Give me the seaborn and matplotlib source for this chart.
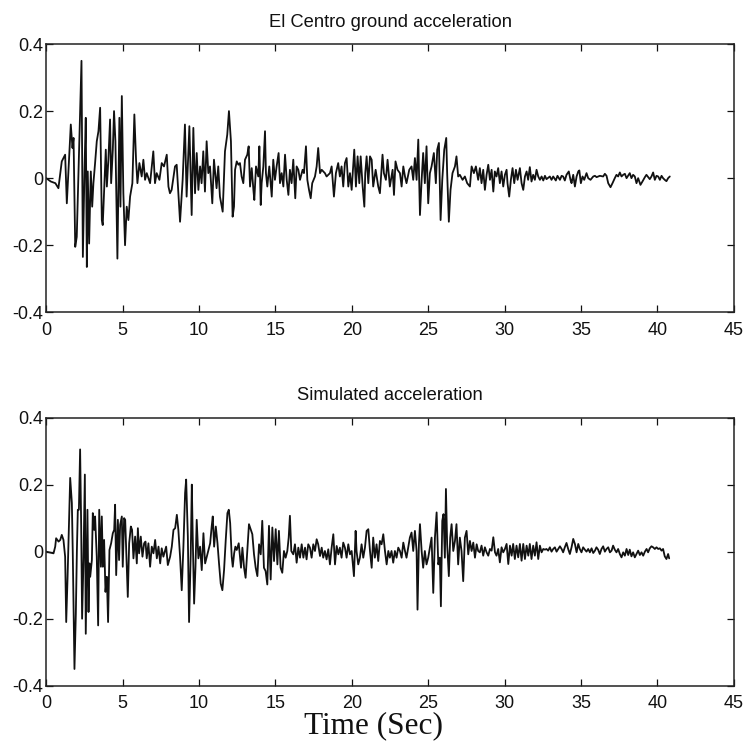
import matplotlib
matplotlib.use("Agg")
import matplotlib.pyplot as plt
import seaborn as sns
import numpy as np

# ---------------- data ----------------
titles = ["El Centro ground acceleration", "Simulated acceleration"]
x_ticks = [0, 5, 10, 15, 20, 25, 30, 35, 40, 45]
y_ticks = [-0.4, -0.2, 0.0, 0.2, 0.4]
y_tick_labels = ["-0.4", "-0.2", "0", "0.2", "0.4"]
x_label = "Time (Sec)"

elcentro_t = [
    0.00, 0.30, 0.60, 0.80, 1.02, 1.24, 1.35, 1.61, 1.72, 1.79,
    1.90, 2.00, 2.11, 2.31, 2.40, 2.51, 2.59, 2.66, 2.72, 2.81,
    2.92, 3.01, 3.09, 3.20, 3.31, 3.42, 3.53, 3.64, 3.70, 3.81,
    3.90, 3.97, 4.07, 4.18, 4.25, 4.36, 4.44, 4.53, 4.66, 4.79,
    4.86, 4.95, 5.05, 5.16, 5.27, 5.38, 5.49, 5.64, 5.77, 5.88,
    5.97, 6.10, 6.25, 6.36, 6.47, 6.58, 6.80, 7.01, 7.12, 7.23,
    7.41, 7.56, 7.71, 7.89, 8.00, 8.10, 8.21, 8.43, 8.54, 8.76,
    8.93, 9.08, 9.19, 9.37, 9.52, 9.63, 9.74, 9.85, 9.96, 10.07,
    10.17, 10.28, 10.39, 10.50, 10.61, 10.72, 10.87, 10.98, 11.15, 11.26,
    11.37, 11.55, 11.70, 11.85, 11.96, 12.09, 12.20, 12.29, 12.36, 12.47,
    12.58, 12.68, 12.79, 12.90, 13.01, 13.16, 13.25, 13.34, 13.45, 13.56,
    13.62, 13.73, 13.88, 13.95, 14.04, 14.10, 14.21, 14.32, 14.38, 14.47,
    14.60, 14.76, 14.86, 14.97, 15.08, 15.21, 15.30, 15.41, 15.52, 15.63,
    15.74, 15.85, 15.95, 16.06, 16.17, 16.30, 16.39, 16.50, 16.61, 16.78,
    16.87, 17.00, 17.09, 17.20, 17.31, 17.41, 17.59, 17.70, 17.80, 17.92,
    18.03, 18.24, 18.35, 18.57, 18.68, 18.83, 18.96, 19.11, 19.22, 19.33,
    19.44, 19.55, 19.66, 19.77, 19.88, 19.99, 20.16, 20.27, 20.38, 20.49,
    20.58, 20.71, 20.82, 20.88, 20.97, 21.08, 21.19, 21.30, 21.40, 21.56,
    21.73, 21.84, 22.01, 22.10, 22.23, 22.34, 22.49, 22.67, 22.76, 22.86,
    22.99, 23.15, 23.26, 23.37, 23.48, 23.58, 23.76, 23.91, 24.02, 24.13,
    24.24, 24.35, 24.46, 24.57, 24.67, 24.78, 24.89, 25.00, 25.11, 25.22,
    25.37, 25.50, 25.59, 25.70, 25.81, 25.92, 26.05, 26.18, 26.24, 26.35,
    26.46, 26.59, 26.75, 26.85, 26.96, 27.07, 27.25, 27.40, 27.55, 27.73,
    27.84, 27.99, 28.12, 28.27, 28.38, 28.49, 28.60, 28.71, 28.82, 28.93,
    29.04, 29.15, 29.26, 29.36, 29.47, 29.58, 29.69, 29.80, 29.91, 30.02,
    30.13, 30.19, 30.30, 30.41, 30.52, 30.63, 30.74, 30.85, 31.00, 31.11,
    31.22, 31.33, 31.44, 31.54, 31.65, 31.76, 31.87, 31.98, 32.09, 32.20,
    32.31, 32.42, 32.53, 32.64, 32.74, 32.96, 33.07, 33.18, 33.35, 33.46,
    33.62, 33.73, 33.83, 33.94, 34.05, 34.20, 34.31, 34.38, 34.49, 34.60,
    34.71, 34.82, 34.89, 34.99, 35.10, 35.21, 35.36, 35.47, 35.62, 35.80,
    35.91, 36.02, 36.23, 36.45, 36.56, 36.67, 36.78, 36.93, 37.06, 37.21,
    37.32, 37.43, 37.54, 37.65, 37.76, 37.87, 37.98, 38.08, 38.19, 38.30,
    38.41, 38.52, 38.63, 38.74, 38.89, 39.02, 39.18, 39.28, 39.50, 39.61,
    39.72, 39.83, 39.94, 40.05, 40.16, 40.27, 40.37, 40.48, 40.59, 40.70, 40.81,
]
elcentro_acc = [
    0.000, -0.010, -0.015, -0.030, 0.050, 0.070, -0.075, 0.160, 0.090, 0.120,
    -0.205, -0.175, 0.010, 0.350, -0.235, 0.030, 0.180, -0.265, 0.020, -0.195,
    0.020, -0.085, -0.015, 0.045, 0.110, 0.140, 0.210, -0.125, -0.140, -0.015,
    0.085, -0.025, 0.055, 0.175, -0.015, 0.085, 0.200, 0.110, -0.240, 0.180,
    -0.085, 0.245, -0.045, -0.200, -0.085, -0.125, -0.055, -0.015, 0.190, 0.055,
    -0.015, 0.045, 0.005, 0.055, -0.005, 0.015, -0.015, 0.080, -0.015, 0.015,
    -0.005, 0.045, 0.035, 0.070, -0.025, -0.045, -0.035, 0.035, 0.040, -0.130,
    -0.005, 0.160, -0.055, 0.155, -0.110, 0.150, -0.045, 0.075, -0.035, 0.035,
    -0.015, 0.080, -0.040, 0.110, 0.015, 0.035, -0.075, 0.055, -0.030, 0.035,
    -0.055, -0.100, 0.080, 0.130, 0.200, 0.110, -0.115, -0.085, 0.025, 0.050,
    0.040, 0.045, 0.005, -0.015, 0.055, 0.070, 0.095, -0.025, 0.030, -0.035,
    -0.065, 0.035, 0.005, 0.095, -0.080, -0.015, 0.035, 0.140, 0.015, -0.025,
    0.035, -0.055, 0.055, -0.005, 0.035, 0.075, -0.015, 0.015, -0.025, 0.070,
    -0.005, -0.050, 0.025, -0.015, 0.055, -0.060, 0.035, 0.025, -0.005, 0.025,
    0.015, 0.095, -0.005, -0.035, -0.060, -0.015, 0.005, 0.035, 0.090, 0.015,
    0.025, 0.015, 0.005, 0.015, 0.035, -0.055, 0.015, 0.045, 0.005, 0.035,
    -0.025, 0.045, 0.060, -0.025, 0.015, -0.035, 0.085, -0.025, 0.065, -0.015,
    0.065, -0.025, -0.085, 0.015, 0.065, -0.015, 0.065, 0.055, -0.025, 0.025,
    -0.025, -0.045, 0.070, 0.015, -0.005, 0.055, -0.025, 0.025, -0.050, 0.050,
    0.025, 0.015, -0.025, 0.035, 0.005, -0.015, 0.025, 0.035, -0.005, 0.060,
    -0.005, 0.115, -0.110, -0.005, 0.075, -0.015, 0.095, -0.075, 0.015, 0.035,
    0.075, -0.015, 0.085, 0.105, -0.125, -0.005, 0.085, 0.120, 0.015, -0.130,
    -0.035, 0.015, 0.035, 0.065, 0.005, 0.010, -0.005, 0.005, -0.015, -0.025,
    0.035, 0.015, 0.035, -0.005, 0.030, -0.015, 0.025, -0.035, 0.010, 0.040,
    -0.005, 0.025, -0.040, 0.020, 0.005, 0.030, -0.015, 0.020, -0.025, 0.010,
    0.025, -0.015, -0.055, -0.005, 0.030, -0.015, 0.025, -0.005, 0.030, -0.015,
    -0.035, 0.005, 0.020, -0.005, 0.033, -0.010, 0.010, -0.005, 0.025, 0.005,
    -0.005, 0.005, -0.007, 0.007, -0.003, 0.005, -0.005, 0.005, -0.007, 0.007,
    -0.005, 0.007, 0.005, -0.007, 0.010, 0.020, -0.005, -0.015, 0.010, -0.025,
    0.005, 0.020, 0.023, -0.015, 0.005, -0.005, 0.015, 0.000, -0.005, 0.005,
    0.007, 0.003, 0.007, 0.005, 0.013, 0.007, -0.015, -0.027, -0.015, 0.000,
    0.010, 0.005, 0.017, 0.005, 0.010, 0.013, 0.000, 0.007, 0.015, 0.000,
    0.010, 0.005, -0.015, 0.000, -0.020, -0.010, 0.003, 0.010, -0.003, 0.005,
    0.017, -0.005, 0.007, 0.005, -0.005, 0.007, 0.000, -0.005, -0.009, 0.000, 0.005,
]

simulated_t = [
    0.00, 0.48, 0.59, 0.65, 0.81, 0.92, 1.02, 1.13, 1.24, 1.31,
    1.40, 1.50, 1.57, 1.68, 1.74, 1.85, 1.94, 2.01, 2.07, 2.14,
    2.22, 2.29, 2.35, 2.44, 2.53, 2.59, 2.66, 2.70, 2.77, 2.83,
    2.88, 2.99, 3.05, 3.14, 3.20, 3.31, 3.40, 3.47, 3.58, 3.64,
    3.71, 3.79, 3.88, 3.97, 4.05, 4.14, 4.25, 4.36, 4.45, 4.51,
    4.58, 4.69, 4.77, 4.84, 4.95, 5.01, 5.10, 5.17, 5.28, 5.34,
    5.43, 5.54, 5.62, 5.71, 5.82, 5.93, 6.00, 6.08, 6.19, 6.30,
    6.41, 6.50, 6.58, 6.69, 6.80, 6.91, 7.02, 7.13, 7.24, 7.35,
    7.46, 7.56, 7.67, 7.85, 7.96, 8.11, 8.22, 8.33, 8.44, 8.55,
    8.65, 8.76, 8.87, 8.98, 9.09, 9.16, 9.27, 9.35, 9.46, 9.53,
    9.59, 9.68, 9.77, 9.85, 9.96, 10.07, 10.18, 10.29, 10.40, 10.51,
    10.62, 10.73, 10.83, 10.90, 10.99, 11.10, 11.21, 11.31, 11.42, 11.53,
    11.64, 11.75, 11.86, 11.95, 12.04, 12.14, 12.21, 12.30, 12.38, 12.47,
    12.60, 12.75, 12.84, 12.95, 13.05, 13.16, 13.27, 13.38, 13.49, 13.60,
    13.71, 13.82, 13.93, 14.04, 14.14, 14.25, 14.36, 14.47, 14.58, 14.69,
    14.80, 14.91, 15.02, 15.13, 15.23, 15.34, 15.45, 15.56, 15.67, 15.78,
    15.87, 15.95, 16.04, 16.17, 16.28, 16.39, 16.50, 16.61, 16.72, 16.83,
    16.94, 17.04, 17.15, 17.26, 17.37, 17.48, 17.59, 17.70, 17.80, 17.92,
    18.03, 18.13, 18.24, 18.35, 18.46, 18.57, 18.68, 18.79, 18.90, 19.01,
    19.12, 19.22, 19.33, 19.44, 19.55, 19.66, 19.77, 19.88, 19.99, 20.14,
    20.25, 20.31, 20.42, 20.53, 20.64, 20.75, 20.86, 20.97, 21.08, 21.19,
    21.30, 21.40, 21.51, 21.62, 21.73, 21.84, 21.95, 22.06, 22.17, 22.28,
    22.39, 22.49, 22.60, 22.71, 22.82, 22.93, 23.04, 23.15, 23.26, 23.37,
    23.48, 23.58, 23.69, 23.80, 23.91, 24.02, 24.13, 24.24, 24.30, 24.39,
    24.46, 24.57, 24.67, 24.78, 24.89, 25.00, 25.11, 25.22, 25.33, 25.44,
    25.55, 25.66, 25.76, 25.83, 25.92, 26.00, 26.09, 26.16, 26.24, 26.35,
    26.44, 26.53, 26.64, 26.75, 26.85, 26.96, 27.07, 27.18, 27.29, 27.40,
    27.51, 27.62, 27.73, 27.84, 27.95, 28.06, 28.17, 28.27, 28.38, 28.49,
    28.60, 28.71, 28.82, 28.93, 29.04, 29.15, 29.26, 29.37, 29.47, 29.58,
    29.69, 29.80, 29.91, 30.02, 30.13, 30.24, 30.35, 30.46, 30.56, 30.67,
    30.78, 30.89, 31.00, 31.11, 31.22, 31.33, 31.44, 31.55, 31.65, 31.76,
    31.87, 31.98, 32.09, 32.20, 32.31, 32.42, 32.53, 32.64, 32.74, 32.85,
    32.96, 33.07, 33.18, 33.29, 33.40, 33.51, 33.62, 33.73, 33.83, 33.94,
    34.05, 34.16, 34.27, 34.38, 34.49, 34.60, 34.71, 34.82, 34.92, 35.03,
    35.14, 35.25, 35.36, 35.47, 35.58, 35.69, 35.80, 35.91, 36.01, 36.12,
    36.23, 36.34, 36.45, 36.56, 36.67, 36.78, 36.89, 37.00, 37.10, 37.21,
    37.32, 37.43, 37.54, 37.65, 37.76, 37.87, 37.98, 38.09, 38.19, 38.30,
    38.41, 38.52, 38.63, 38.74, 38.85, 38.96, 39.07, 39.18, 39.29, 39.39,
    39.50, 39.61, 39.72, 39.83, 39.94, 40.05, 40.16, 40.27, 40.37, 40.48,
    40.59, 40.70, 40.77,
]
simulated_acc = [
    0.000, -0.005, 0.015, 0.040, 0.030, 0.035, 0.050, 0.035, -0.015, -0.210,
    -0.075, 0.095, 0.220, 0.145, -0.005, -0.350, -0.185, 0.005, 0.125, 0.125,
    0.305, 0.075, -0.200, -0.025, 0.230, -0.245, -0.005, 0.125, -0.180, -0.035,
    -0.075, -0.025, 0.115, 0.065, 0.105, -0.015, -0.220, 0.125, -0.045, 0.105,
    -0.045, 0.035, -0.120, -0.075, -0.210, 0.005, 0.025, 0.055, 0.065, 0.140,
    -0.070, 0.095, -0.025, 0.080, 0.105, -0.045, 0.100, 0.095, -0.050, -0.135,
    0.025, 0.075, 0.065, -0.020, 0.045, -0.035, 0.070, -0.005, 0.045, -0.015,
    0.025, 0.030, -0.020, 0.025, -0.045, 0.015, -0.005, 0.035, -0.020, 0.015,
    -0.035, 0.010, -0.015, 0.015, -0.040, -0.015, 0.015, 0.065, 0.070, 0.110,
    0.065, -0.015, -0.115, 0.015, 0.175, 0.215, 0.045, -0.210, -0.005, 0.200,
    0.045, -0.155, -0.045, 0.095, -0.020, 0.015, -0.055, 0.055, -0.035, -0.015,
    0.005, 0.025, 0.075, 0.105, 0.015, 0.075, 0.025, -0.035, -0.095, -0.115,
    -0.055, 0.035, 0.115, 0.125, 0.085, -0.015, -0.045, -0.005, 0.015, 0.005,
    0.025, -0.048, 0.012, -0.048, -0.078, 0.002, 0.082, 0.067, 0.052, -0.008,
    -0.048, -0.073, 0.022, -0.008, 0.092, -0.048, -0.058, -0.098, 0.077, -0.083,
    0.072, -0.028, 0.067, -0.038, 0.062, -0.048, -0.063, 0.002, -0.018, 0.002,
    0.042, 0.107, 0.002, -0.008, 0.022, -0.033, 0.012, -0.018, 0.022, -0.018,
    0.012, -0.023, 0.022, 0.012, -0.018, 0.022, 0.002, 0.037, 0.022, -0.013,
    0.012, -0.018, 0.002, -0.023, 0.007, -0.038, 0.012, 0.052, -0.038, 0.017,
    -0.008, 0.012, -0.018, 0.027, 0.012, -0.018, 0.022, -0.008, 0.002, -0.073,
    0.062, 0.002, -0.038, -0.018, 0.022, -0.018, 0.012, 0.062, 0.067, 0.002,
    -0.048, 0.042, -0.018, 0.022, -0.028, 0.032, 0.022, 0.052, 0.002, -0.038,
    0.002, -0.018, 0.002, -0.033, 0.002, -0.018, 0.012, 0.002, -0.018, 0.027,
    0.002, -0.018, 0.012, 0.042, 0.057, 0.002, 0.062, 0.002, -0.173, 0.022,
    0.082, 0.002, -0.048, 0.002, -0.038, -0.018, 0.012, 0.042, -0.123, 0.042,
    0.117, -0.038, -0.018, -0.163, 0.092, 0.112, -0.018, 0.187, 0.022, -0.073,
    0.042, 0.082, 0.002, 0.032, 0.082, -0.038, 0.042, 0.002, -0.088, 0.042,
    0.062, -0.008, 0.032, 0.002, 0.027, -0.018, 0.022, 0.002, -0.002, 0.018,
    -0.012, 0.013, -0.002, -0.012, 0.008, 0.003, 0.043, -0.002, -0.012, 0.008,
    -0.032, 0.013, -0.002, 0.008, 0.023, -0.037, 0.018, -0.012, 0.023, -0.022,
    0.018, -0.017, 0.023, -0.027, 0.023, -0.022, 0.018, -0.012, 0.023, -0.022,
    0.018, -0.012, 0.028, -0.022, 0.018, -0.002, 0.008, 0.006, 0.008, 0.003,
    0.013, 0.000, 0.008, 0.013, 0.000, 0.008, 0.016, 0.008, -0.002, 0.013,
    0.026, 0.008, -0.007, 0.013, 0.038, 0.023, -0.002, 0.023, 0.008, -0.002,
    0.013, 0.006, 0.000, 0.008, -0.002, 0.010, -0.004, 0.003, 0.013, 0.006,
    -0.007, 0.008, 0.016, 0.000, 0.008, 0.013, -0.002, 0.003, 0.018, 0.006,
    -0.002, 0.008, -0.007, -0.017, -0.002, -0.012, 0.008, -0.010, 0.006, -0.014,
    -0.002, -0.017, -0.007, 0.003, -0.010, -0.002, -0.012, 0.000, 0.008, -0.002,
    0.010, 0.016, 0.013, 0.008, 0.013, 0.008, 0.010, 0.003, 0.008, -0.014,
    -0.022, -0.007, -0.020,
]

# ---------------- figure ----------------
sns.set_style("ticks")
plt.rcParams["font.family"] = ["Liberation Sans", "DejaVu Sans"]
plt.rcParams["xtick.direction"] = "in"
plt.rcParams["ytick.direction"] = "in"

fig = plt.figure(figsize=(7.45, 7.47), dpi=100)
ax_top = fig.add_axes([0.062, 0.582, 0.923, 0.359])
ax_bot = fig.add_axes([0.062, 0.082, 0.923, 0.359])

series = [(elcentro_t, elcentro_acc), (simulated_t, simulated_acc)]
for ax, title, (tt, aa) in zip([ax_top, ax_bot], titles, series):
    n = min(len(tt), len(aa))
    sns.lineplot(x=np.array(tt[:n]), y=np.array(aa[:n]), ax=ax, color="#111111",
                 linewidth=1.3, estimator=None, sort=False)
    ax.set_xlim(0, 45)
    ax.set_ylim(-0.4, 0.4)
    ax.set_xticks(x_ticks)
    ax.set_xticklabels([str(v) for v in x_ticks])
    ax.set_yticks(y_ticks)
    ax.set_yticklabels(y_tick_labels)
    ax.tick_params(axis="both", which="both", direction="in", top=True, right=True,
                   length=5, width=0.9, labelsize=13, colors="#111111")
    ax.tick_params(axis="x", pad=7)
    ax.tick_params(axis="y", pad=2)
    for sp in ax.spines.values():
        sp.set_visible(True)
        sp.set_linewidth(1.1)
        sp.set_color("#222222")
    ax.set_title(title, fontsize=13.2, pad=12.5, color="#111111")
    ax.set_xlabel("")
    ax.set_ylabel("")

fig.text(0.502, 0.0187, x_label, ha="center", va="baseline",
         family=["Liberation Serif", "DejaVu Serif"], fontsize=22.5, color="#111111")

fig.savefig("out.png", dpi=100, facecolor="white")
